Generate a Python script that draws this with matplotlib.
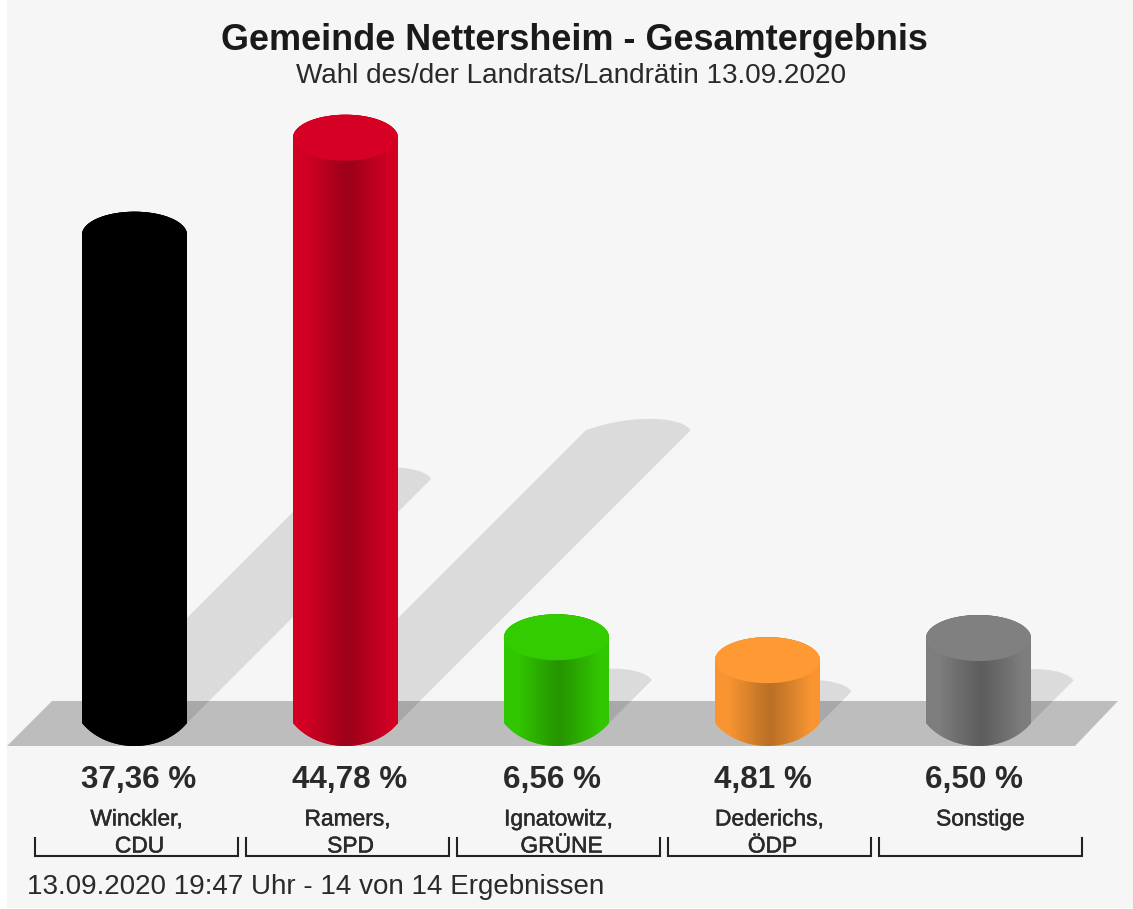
import numpy as np
import matplotlib
matplotlib.use("Agg")
import matplotlib.pyplot as plt
from matplotlib.patches import Polygon, PathPatch, Rectangle
from matplotlib.path import Path
from matplotlib.transforms import Affine2D
from matplotlib.colors import to_rgb
import matplotlib.patheffects as pe

# ---- data ----
candidates = ["Winckler,", "Ramers,", "Ignatowitz,", "Dederichs,", "Sonstige"]
parties = ["CDU", "SPD", "GRÜNE", "ÖDP", ""]
values = [37.36, 44.78, 6.56, 4.81, 6.50]
value_labels = ["37,36 %", "44,78 %", "6,56 %", "4,81 %", "6,50 %"]
top_colors = ["#000000", "#d60024", "#33cc00", "#ff9933", "#808080"]
title = "Gemeinde Nettersheim - Gesamtergebnis"
subtitle = "Wahl des/der Landrats/Landrätin 13.09.2020"
footer = "13.09.2020 19:47 Uhr - 14 von 14 Ergebnissen"

# ---- layout (pixels of the 1133x909 canvas) ----
W, H = 1133, 909
X0, DX = 134.5, 211.0      # centre of the first bar, bar spacing
Y0, PX_PER_PCT = 723.0, 13.07
BAR_W, CAP_H = 105.0, 46.0
FONT = "Liberation Sans"
TXT = "#2a2a2a"

plt.rcParams["font.family"] = FONT
fig = plt.figure(figsize=(W / 100, H / 100), dpi=100, facecolor="white")
ax = fig.add_axes([0, 0, 1, 1])
ax.set_xlim(-X0 / DX, (W - X0) / DX)
ax.set_ylim(-(H - Y0) / PX_PER_PCT, Y0 / PX_PER_PCT)
ax.set_autoscale_on(False)
ax.axis("off")
pix = Affine2D().scale(1 / W, -1 / H).translate(0, 1) + fig.transFigure

ax.add_patch(Rectangle((7, 0), W - 7, 908, transform=pix, fc="#f6f6f6", ec="none", zorder=0))
ax.add_patch(Polygon([(7, 746), (52, 701), (1118, 701), (1075, 746)], closed=True,
                     transform=pix, fc="#bdbdbd", ec="none", zorder=1))

a = BAR_W / 2 / DX               # half bar width, category units
b = CAP_H / 2 / PX_PER_PCT       # cap half height, percent units
shear = PX_PER_PCT / DX          # 45 degree slant in data units
t = np.linspace(0, np.pi, 60)


def dome(u, k=1.2):
    """Shallow elliptical segment: 0 at u=+-1, 1 at u=0, meeting the sides at a corner."""
    s = np.sqrt(1 - 1 / k ** 2)
    return (np.sqrt(1 - (u / k) ** 2) - s) / (1 - s)


def soft(artist, lw=0.35):
    artist.set_path_effects([pe.withStroke(linewidth=lw, foreground=artist.get_color())])


for i, (v, col) in enumerate(zip(values, top_colors)):
    # shadow: sheared copy of the column, half its height
    sh = v / 2
    sx = i + sh * shear
    u = np.linspace(1, -1, 60)
    h = 0.5 * b * dome(u)
    arc_x = sx + a * u + h * shear
    arc_y = sh + h
    pts = [(i + a, 0)] + list(zip(arc_x, arc_y)) + [(i - a, 0)]
    ax.add_patch(Polygon(pts, closed=True, fc=(0, 0, 0, 0.105), ec="none", zorder=2))

    # column body outline: rounded foot + top half of the cap
    fu = np.linspace(-1, 1, 50)
    foot_x = i + a * fu
    foot_y = -b * dome(fu)
    top_x = i + a * np.cos(t)
    top_y = v + b * np.sin(t)
    body = np.vstack([np.c_[foot_x, foot_y], np.c_[top_x, top_y]])
    path = Path(np.vstack([body, body[0]]), closed=True)
    ax.add_patch(PathPatch(path, fc=col, ec="none", zorder=3))

    # horizontal shading of the column side
    base = np.array(to_rgb(col))
    g = np.linspace(-1, 1, 211)
    shade = np.clip(np.abs(g - 0.05) / 0.8, 0, 1) ** 1.1
    factor = 0.73 + 0.25 * shade
    grad = base[None, None, :] * factor[None, :, None]
    im = ax.imshow(grad, extent=(i - a, i + a, -b - b, v + b), aspect="auto",
                   interpolation="bilinear", zorder=4)
    im.set_clip_path(PathPatch(path, transform=ax.transData))

    # flat cap on top
    tt = np.linspace(0, 2 * np.pi, 120)
    ax.fill(i + a * np.cos(tt), v + b * np.sin(tt), color=col, ec="none", zorder=5)

    # labels
    left = X0 + DX * i - BAR_W / 2
    ax.text(left - 1, 780, value_labels[i], transform=pix, fontsize=22.6, fontweight="bold",
            color=TXT, ha="left", va="center", zorder=6)
    c = 136.5 + DX * i
    soft(ax.text(c, 819, candidates[i], transform=pix, fontsize=16.4, color=TXT,
                 ha="center", va="center", zorder=6))
    if parties[i]:
        soft(ax.text(c + 3, 846, parties[i], transform=pix, fontsize=16.4, color=TXT,
                     ha="center", va="center", zorder=6))
    ax.plot([c - 101.5, c - 101.5, c + 101.5, c + 101.5], [838, 856, 856, 838],
            transform=pix, color="#222222", lw=1.5, solid_joinstyle="miter", zorder=6)

ax.text(574.5, 40.5, title, transform=pix, fontsize=25.9, fontweight="bold", color="#1a1a1a",
        ha="center", va="center", zorder=6)
ax.text(571, 76, subtitle, transform=pix, fontsize=20.1, color=TXT,
        ha="center", va="center", zorder=6)
ax.text(27, 887, footer, transform=pix, fontsize=19.95, color=TXT,
        ha="left", va="center", zorder=6)

fig.savefig("out.png", dpi=100, facecolor=fig.get_facecolor())
